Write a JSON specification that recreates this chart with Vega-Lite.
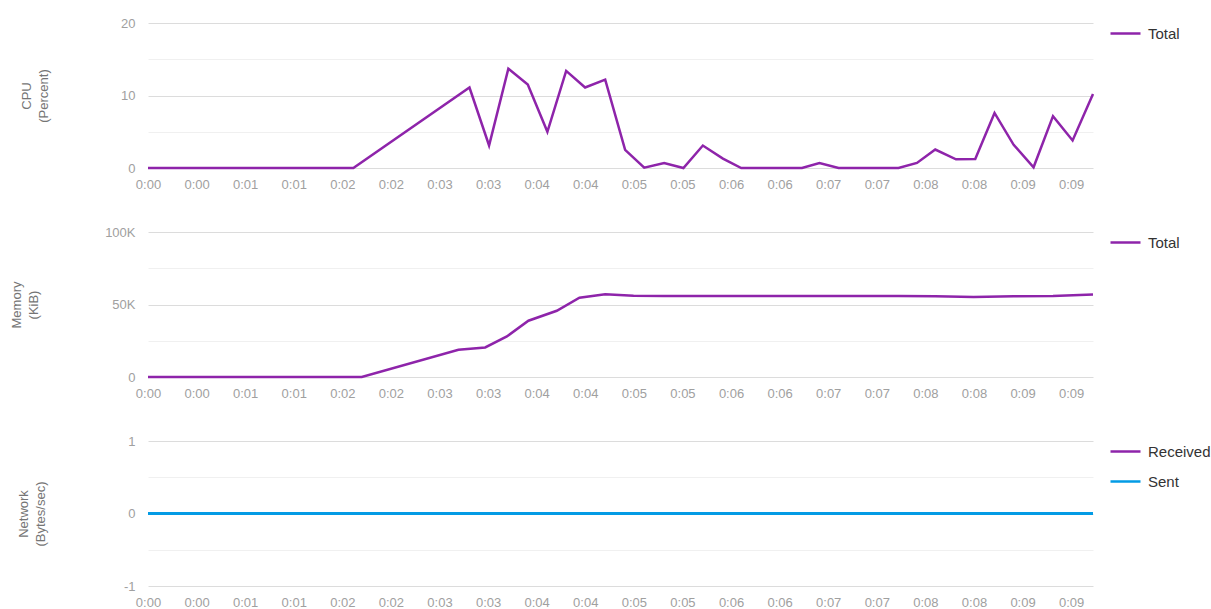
{
  "$schema": "https://vega.github.io/schema/vega-lite/v6.json",
  "background": "white",
  "padding": {"left": 10, "top": 17, "right": 0, "bottom": 0},
  "config": {
    "view": {"stroke": null},
    "font": "Liberation Sans",
    "axis": {
      "labelFont": "Liberation Sans",
      "labelFontSize": 13,
      "labelColor": "#a0a0a0",
      "domain": false,
      "ticks": false,
      "labelFlush": false,
      "titleFont": "Liberation Sans",
      "titleFontWeight": "normal",
      "titleFontSize": 13,
      "titleColor": "#757575",
      "titleLineHeight": 17
    },
    "legend": {
      "orient": "none",
      "legendX": 961,
      "legendY": -6,
      "title": null,
      "symbolType": "stroke",
      "symbolSize": 900,
      "symbolStrokeWidth": 2.5,
      "labelFont": "Liberation Sans",
      "labelFontSize": 15,
      "labelColor": "#333333",
      "labelOffset": 6,
      "rowPadding": 5,
      "padding": 0
    }
  },
  "datasets": {
    "cpu": [
      {"t": 0, "v": 0, "series": "Total"},
      {"t": 126.8, "v": 0, "series": "Total"},
      {"t": 198.5, "v": 11.1, "series": "Total"},
      {"t": 210.6, "v": 3.1, "series": "Total"},
      {"t": 222.5, "v": 13.7, "series": "Total"},
      {"t": 234.5, "v": 11.5, "series": "Total"},
      {"t": 246.6, "v": 5.0, "series": "Total"},
      {"t": 258.2, "v": 13.4, "series": "Total"},
      {"t": 269.9, "v": 11.1, "series": "Total"},
      {"t": 282.3, "v": 12.2, "series": "Total"},
      {"t": 294.6, "v": 2.5, "series": "Total"},
      {"t": 306.4, "v": 0.05, "series": "Total"},
      {"t": 318.7, "v": 0.7, "series": "Total"},
      {"t": 330.6, "v": 0, "series": "Total"},
      {"t": 342.6, "v": 3.1, "series": "Total"},
      {"t": 355, "v": 1.3, "series": "Total"},
      {"t": 366.3, "v": 0, "series": "Total"},
      {"t": 378.5, "v": 0, "series": "Total"},
      {"t": 390.5, "v": 0, "series": "Total"},
      {"t": 403.8, "v": 0, "series": "Total"},
      {"t": 414.6, "v": 0.7, "series": "Total"},
      {"t": 426.4, "v": 0, "series": "Total"},
      {"t": 438.5, "v": 0, "series": "Total"},
      {"t": 450.5, "v": 0, "series": "Total"},
      {"t": 463.4, "v": 0, "series": "Total"},
      {"t": 474.8, "v": 0.7, "series": "Total"},
      {"t": 486.1, "v": 2.55, "series": "Total"},
      {"t": 498.9, "v": 1.2, "series": "Total"},
      {"t": 510.8, "v": 1.25, "series": "Total"},
      {"t": 522.7, "v": 7.6, "series": "Total"},
      {"t": 534.5, "v": 3.2, "series": "Total"},
      {"t": 546.8, "v": 0.1, "series": "Total"},
      {"t": 558.8, "v": 7.15, "series": "Total"},
      {"t": 570.9, "v": 3.8, "series": "Total"},
      {"t": 583.5, "v": 10.2, "series": "Total"}
    ],
    "mem": [
      {"t": 0, "v": 0, "series": "Total"},
      {"t": 132, "v": 0, "series": "Total"},
      {"t": 191.7, "v": 18800, "series": "Total"},
      {"t": 208.2, "v": 20400, "series": "Total"},
      {"t": 221.6, "v": 28000, "series": "Total"},
      {"t": 234.9, "v": 38800, "series": "Total"},
      {"t": 252.4, "v": 45700, "series": "Total"},
      {"t": 266.4, "v": 54700, "series": "Total"},
      {"t": 282.3, "v": 57000, "series": "Total"},
      {"t": 299.8, "v": 56000, "series": "Total"},
      {"t": 318.7, "v": 55800, "series": "Total"},
      {"t": 366.3, "v": 55800, "series": "Total"},
      {"t": 414.6, "v": 55800, "series": "Total"},
      {"t": 463.4, "v": 55800, "series": "Total"},
      {"t": 486.1, "v": 55700, "series": "Total"},
      {"t": 509.8, "v": 55200, "series": "Total"},
      {"t": 534.5, "v": 55700, "series": "Total"},
      {"t": 558.8, "v": 55900, "series": "Total"},
      {"t": 583.5, "v": 56900, "series": "Total"}
    ],
    "net": [
      {"t": 0, "v": 0, "series": "Received"},
      {"t": 583.5, "v": 0, "series": "Received"},
      {"t": 0, "v": 0, "series": "Sent"},
      {"t": 583.5, "v": 0, "series": "Sent"}
    ]
  },
  "bounds": "flush",
  "spacing": 64,
  "resolve": {"scale": {"color": "independent", "y": "independent"}, "legend": {"color": "independent"}},
  "vconcat": [
    {
      "width": 945,
      "height": 145,
      "data": {"name": "cpu"},
      "mark": {"type": "line", "strokeWidth": 2.5},
      "encoding": {
        "x": {"field": "t", "type": "quantitative",
          "scale": {"domain": [0, 583.5], "nice": false, "zero": false},
          "axis": {"values": [0,30,60,90,120,150,180,210,240,270,300,330,360,390,420,450,480,510,540,570],
            "labelExpr": "'0:0' + floor(datum.value/60)", "grid": false, "title": null, "labelPadding": 10}},
        "y": {"field": "v", "type": "quantitative",
          "scale": {"domain": [0, 20], "nice": false},
          "axis": {"values": [0,5,10,15,20],
            "labelExpr": "datum.value % 10 === 0 ? '' + datum.value : ''",
            "gridColor": {"condition": {"test": "datum.value % 10 === 0", "value": "#dcdcdc"}, "value": "#f0f0f0"},
            "labelPadding": 13,
            "title": ["CPU", "(Percent)"], "titlePadding": 70}},
        "color": {"field": "series", "type": "nominal",
          "scale": {"domain": ["Total"], "range": ["#8e24aa"]}}
      }
    },
    {
      "width": 945,
      "height": 145,
      "data": {"name": "mem"},
      "mark": {"type": "line", "strokeWidth": 2.5},
      "encoding": {
        "x": {"field": "t", "type": "quantitative",
          "scale": {"domain": [0, 583.5], "nice": false, "zero": false},
          "axis": {"values": [0,30,60,90,120,150,180,210,240,270,300,330,360,390,420,450,480,510,540,570],
            "labelExpr": "'0:0' + floor(datum.value/60)", "grid": false, "title": null, "labelPadding": 10}},
        "y": {"field": "v", "type": "quantitative",
          "scale": {"domain": [0, 100000], "nice": false},
          "axis": {"values": [0,25000,50000,75000,100000],
            "labelExpr": "datum.value === 0 ? '0' : (datum.value % 50000 === 0 ? (datum.value/1000) + 'K' : '')",
            "gridColor": {"condition": {"test": "datum.value % 50000 === 0", "value": "#dcdcdc"}, "value": "#f0f0f0"},
            "labelPadding": 13,
            "title": ["Memory", "(KiB)"], "titlePadding": 64}},
        "color": {"field": "series", "type": "nominal",
          "scale": {"domain": ["Total"], "range": ["#8e24aa"]}}
      }
    },
    {
      "width": 945,
      "height": 145,
      "data": {"name": "net"},
      "mark": {"type": "line", "strokeWidth": 3},
      "encoding": {
        "x": {"field": "t", "type": "quantitative",
          "scale": {"domain": [0, 583.5], "nice": false, "zero": false},
          "axis": {"values": [0,30,60,90,120,150,180,210,240,270,300,330,360,390,420,450,480,510,540,570],
            "labelExpr": "'0:0' + floor(datum.value/60)", "grid": false, "title": null, "labelPadding": 10}},
        "y": {"field": "v", "type": "quantitative",
          "scale": {"domain": [-1, 1], "nice": false},
          "axis": {"values": [-1,-0.5,0,0.5,1],
            "labelExpr": "datum.value % 1 === 0 ? '' + datum.value : ''",
            "gridColor": {"condition": {"test": "datum.value % 1 === 0", "value": "#dcdcdc"}, "value": "#f0f0f0"},
            "labelPadding": 13,
            "title": ["Network", "(Bytes/sec)"], "titlePadding": 76}},
        "color": {"field": "series", "type": "nominal",
          "scale": {"domain": ["Received", "Sent"], "range": ["#8e24aa", "#039be5"]}}
      }
    }
  ]
}
